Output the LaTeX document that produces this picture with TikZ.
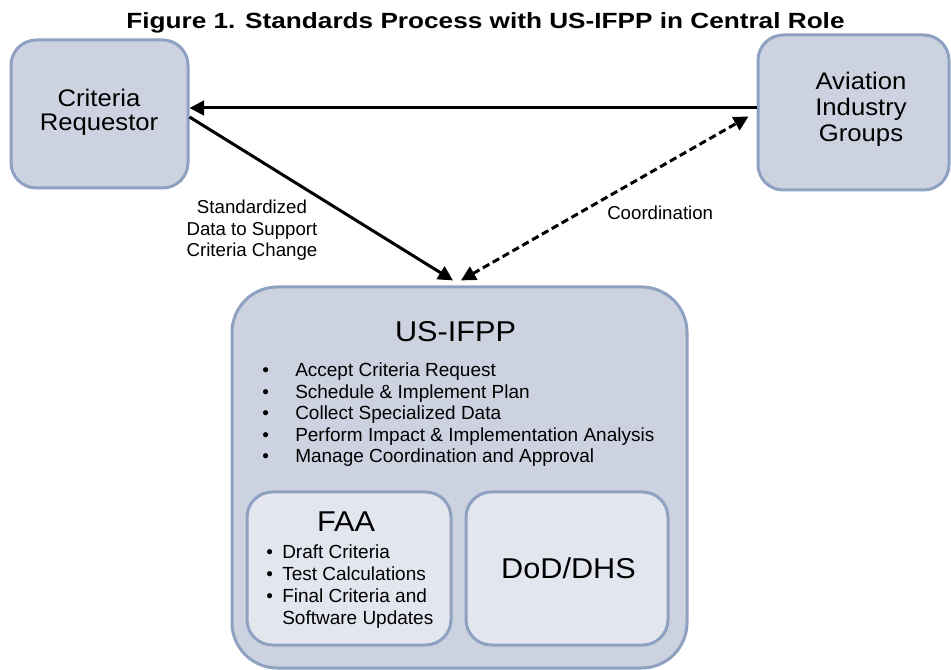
\documentclass[tikz,border=0pt]{standalone}
\usepackage{fontspec}
\setmainfont{Liberation Sans}
\newfontfamily\titlefont[FakeStretch=1.19]{Liberation Sans}
\newfontfamily\widefont[FakeStretch=1.07]{Liberation Sans}
\usetikzlibrary{arrows.meta}
\definecolor{boxfill}{RGB}{205,210,225}
\definecolor{boxline}{RGB}{143,161,192}
\definecolor{innerfill}{RGB}{227,230,239}
\tikzset{
  bigbox/.style={draw=boxline, fill=boxfill, line width=2.25pt, rounded corners=19pt, inner sep=0pt},
  innerbox/.style={draw=boxline, fill=innerfill, line width=2.25pt, rounded corners=19pt, inner sep=0pt},
  txt/.style={inner sep=0pt, text=black},
  conn/.style={line width=2.25pt, black, -{Triangle[length=11pt,width=11pt]}},
  dconn/.style={line width=2.25pt, black, dash pattern=on 5.5pt off 3pt, {Triangle[length=11pt,width=11pt]}-{Triangle[length=11pt,width=11pt]}}
}
\begin{document}
\begin{tikzpicture}[x=0.75pt,y=-0.75pt]
\useasboundingbox (0,0) rectangle (951,670);
\fill[white] (0,0) rectangle (951,670);
% title
\node[txt, anchor=base] (title) at (485.5,29) {\titlefont\bfseries\fontsize{16.5}{20}\selectfont Figure 1. Standards Process with US-IFPP in Central Role};
% boxes
\node[bigbox, minimum width=132.75pt, minimum height=111pt] (crit) at (99.5,114) {};
\node[bigbox, minimum width=143.25pt, minimum height=116.25pt] (avi) at (853.5,112.5) {};
\node[bigbox, rounded corners=34pt, minimum width=341.25pt, minimum height=285.75pt] (us) at (459.5,477.5) {};
\node[innerbox, minimum width=153pt, minimum height=114.75pt] (faa) at (349,568.5) {};
\node[innerbox, minimum width=151.5pt, minimum height=114.75pt] (dod) at (567,568.5) {};
% box texts
\node[txt, anchor=base] (crittext) at (99,107) {\widefont\fontsize{18}{16.5}\selectfont\begin{tabular}[t]{@{}c@{}}Criteria\\Requestor\end{tabular}};
\node[txt, anchor=base] (avitext) at (861,90) {\widefont\fontsize{18}{19.5}\selectfont\begin{tabular}[t]{@{}c@{}}Aviation\\Industry\\Groups\end{tabular}};
\node[txt, anchor=base] (ustitle) at (455.5,342) {\widefont\fontsize{21.5}{24}\selectfont US-IFPP};
\node[txt, anchor=base west] (uslist) at (262,377) {\fontsize{14.25}{16.1}\selectfont\begin{tabular}[t]{@{}p{24.75pt}@{}l@{}}
\textbullet & Accept Criteria Request\\
\textbullet & Schedule \& Implement Plan\\
\textbullet & Collect Specialized Data\\
\textbullet & Perform Impact \& Implementation Analysis\\
\textbullet & Manage Coordination and Approval
\end{tabular}};
\node[txt, anchor=base] (faatitle) at (346,532) {\widefont\fontsize{21.5}{24}\selectfont FAA};
\node[txt, anchor=base west] (faalist) at (266,559) {\fontsize{14.25}{16.5}\selectfont\begin{tabular}[t]{@{}p{12pt}@{}l@{}}
\textbullet & Draft Criteria\\
\textbullet & Test Calculations\\
\textbullet & Final Criteria and\\
 & Software Updates
\end{tabular}};
\node[txt, anchor=base] (dodtext) at (568.5,579) {\widefont\fontsize{21.5}{24}\selectfont DoD/DHS};
% labels
\node[txt, anchor=base] (lbl1) at (252,214) {\fontsize{14}{16.1}\selectfont\begin{tabular}[t]{@{}c@{}}Standardized\\Data to Support\\Criteria Change\end{tabular}};
\node[txt, anchor=base west] (lbl2) at (607,220) {\fontsize{14}{16.1}\selectfont Coordination};
% connectors
\draw[conn] (avi.west |- 0,108) -- (crit.east |- 0,108);
\draw[conn] (crit.east |- 0,117) -- ([xshift=-4.9pt,yshift=3.8pt]us.north);
\draw[dconn] ([xshift=1.1pt,yshift=3.8pt]us.north) -- ([xshift=-6pt,yshift=-3pt]avi.west);
\end{tikzpicture}
\end{document}
